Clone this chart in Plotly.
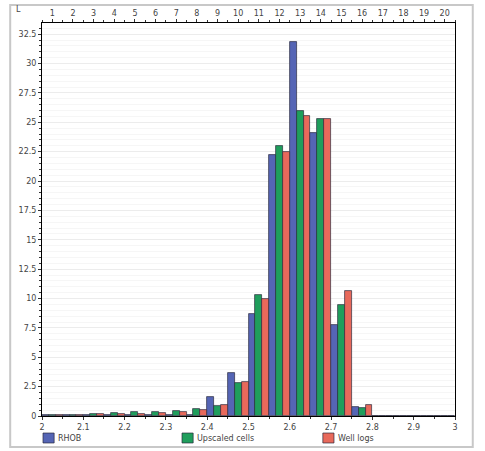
import plotly.graph_objects as go

bin_centers = [2.025, 2.075, 2.125, 2.175, 2.225, 2.275, 2.325, 2.375, 2.425, 2.475,
               2.525, 2.575, 2.625, 2.675, 2.725, 2.775, 2.825, 2.875, 2.925, 2.975]
bin_numbers = list(range(1, 21))
rhob = [0.05, 0.1, 0.05, 0.05, 0.1, 0.1, 0.1, 0.1, 1.65, 3.65, 8.7, 22.2, 31.8, 24.1, 7.75, 0.8, 0, 0, 0, 0]
upscaled = [0.05, 0.1, 0.2, 0.25, 0.3, 0.3, 0.4, 0.6, 0.85, 2.85, 10.3, 23.0, 26.0, 25.3, 9.45, 0.7, 0, 0, 0, 0]
welllogs = [0.1, 0.1, 0.15, 0.15, 0.2, 0.25, 0.37, 0.55, 0.95, 2.9, 10.0, 22.5, 25.5, 25.3, 10.6, 0.95, 0, 0, 0, 0]
x_ticks = [2, 2.1, 2.2, 2.3, 2.4, 2.5, 2.6, 2.7, 2.8, 2.9, 3]
x_labels = ["2", "2.1", "2.2", "2.3", "2.4", "2.5", "2.6", "2.7", "2.8", "2.9", "3"]
y_ticks = [0, 2.5, 5, 7.5, 10, 12.5, 15, 17.5, 20, 22.5, 25, 27.5, 30, 32.5]
y_labels = ["0", "2.5", "5", "7.5", "10", "12.5", "15", "17.5", "20", "22.5", "25", "27.5", "30", "32.5"]

series_names = ["RHOB", "Upscaled cells", "Well logs"]
series_values = [rhob, upscaled, welllogs]
series_colors = ["#5565b5", "#1f9e5c", "#e8695b"]

FONT = "DejaVu Sans"
fig = go.Figure()
for name, vals, col in zip(series_names, series_values, series_colors):
    fig.add_trace(go.Bar(x=bin_centers, y=vals, name=name, showlegend=False,
                         marker=dict(color=col, line=dict(color="rgba(40,40,60,0.85)", width=0.8))))

# invisible trace to activate top ruler axis
fig.add_trace(go.Scatter(x=[1, 20], y=[0, 0], xaxis="x2", mode="markers",
                         marker=dict(opacity=0), showlegend=False, hoverinfo="skip"))

fig.update_layout(
    width=485, height=451,
    margin=dict(l=42, r=30, t=23, b=35, autoexpand=False),
    paper_bgcolor="white", plot_bgcolor="white",
    barmode="group", bargap=0, bargroupgap=0,
    font=dict(family=FONT, size=8, color="#444"),
    showlegend=False,
    xaxis=dict(range=[2, 3], tickvals=x_ticks, ticktext=x_labels, showgrid=False,
               showline=True, linecolor="black", linewidth=1, ticks="outside", ticklen=3,
               tickcolor="#333", zeroline=False,
               minor=dict(dtick=0.05, ticks="outside", ticklen=2, tickcolor="#333")),
    xaxis2=dict(range=[0.5, 20.5], overlaying="x", side="top", tickvals=bin_numbers,
                ticktext=[str(b) for b in bin_numbers], showgrid=False, showline=True,
                linecolor="black", linewidth=1, ticks="outside", ticklen=3, tickcolor="#333",
                minor=dict(dtick=0.5, ticks="outside", ticklen=2, tickcolor="#333"),
                zeroline=False),
    yaxis=dict(range=[0, 33.45], tickvals=y_ticks, ticktext=y_labels, showline=True,
               linecolor="black", linewidth=1, mirror=True, ticks="outside", ticklen=3,
               tickcolor="#333", zeroline=False, showgrid=True, gridcolor="#ececec",
               gridwidth=1,
               minor=dict(dtick=0.5, ticks="outside", ticklen=2, tickcolor="#333",
                          showgrid=True, gridcolor="#f6f6f6")),
)

# manual legend (three evenly spaced entries below the axis)
legend_x = [0.0024, 0.339, 0.680]
for lx, name, col in zip(legend_x, series_names, series_colors):
    fig.add_shape(type="rect", xref="paper", yref="paper", x0=lx, x1=lx + 0.027,
                  y0=-0.0687, y1=-0.0433, fillcolor=col,
                  line=dict(color="rgba(40,40,60,0.85)", width=0.8))
    fig.add_annotation(text=name, xref="paper", yref="paper", x=lx + 0.032, y=-0.056,
                       showarrow=False, xanchor="left", yanchor="middle",
                       font=dict(family=FONT, size=8, color="#444"))

# outer window frame
fig.add_shape(type="rect", xref="paper", yref="paper", x0=-0.077, x1=1.043, y0=-0.079, y1=1.046,
              line=dict(color="#c8c8c8", width=2), fillcolor="rgba(0,0,0,0)", layer="below")
fig.add_annotation(text="L", xref="paper", yref="paper", x=-0.058, y=1.035, showarrow=False,
                   font=dict(family=FONT, size=8, color="#444"), xanchor="center", yanchor="middle")

fig.write_html("out.html")
